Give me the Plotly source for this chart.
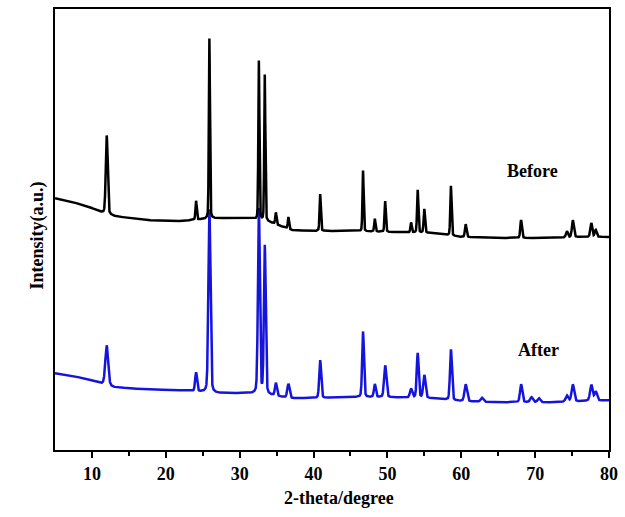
import numpy as np
import plotly.graph_objects as go

# ---------------- data ----------------
# background (baseline) control points: 2-theta, intensity (a.u.)
before_base_x = [5, 7, 10, 11.5, 13, 17, 22, 27, 31, 34, 37, 40, 45, 50, 56, 60, 65, 72, 76, 80]
before_base_y = [253, 250, 243, 238, 235, 231, 230, 233, 233, 229, 221, 220, 220, 219, 218, 214, 213, 213, 214, 214]
after_base_x = [5, 7, 10, 11.5, 13, 17, 22, 27, 31, 34, 37, 40, 45, 50, 56, 60, 65, 72, 76, 80]
after_base_y = [77, 75, 70, 66, 63, 61, 60, 57, 57, 55, 52, 52, 53, 53, 52, 49, 48, 48, 49, 50]

# reflections: position (2-theta), height above background, FWHM
before_pos = [12.0, 24.1, 25.9, 32.6, 33.4, 34.9, 36.6, 40.9, 46.7, 48.3, 49.7, 53.2, 54.1,
              55.0, 58.6, 60.6, 68.1, 74.3, 75.1, 77.6, 78.2]
before_height = [79, 19, 181, 160, 147, 12, 12, 37, 61, 13, 31, 10, 43,
                 24, 50, 13, 18, 6, 17, 14, 7]
before_fwhm = [0.3, 0.2, 0.17, 0.17, 0.17, 0.2, 0.2, 0.2, 0.18, 0.2, 0.2, 0.2, 0.2,
               0.22, 0.2, 0.25, 0.25, 0.3, 0.3, 0.3, 0.3]

after_pos = [12.0, 24.1, 25.9, 32.6, 33.4, 34.9, 36.6, 40.9, 46.7, 48.3, 49.7, 53.2, 54.1,
             55.0, 58.6, 60.6, 62.8, 68.1, 69.5, 70.5, 74.3, 75.1, 77.6, 78.2]
after_height = [40, 19, 184, 186, 149, 13, 14, 38, 66, 13, 32, 9, 45,
                23, 51, 17, 4, 18, 5, 4, 6, 17, 16, 9]
after_fwhm = [0.45, 0.3, 0.32, 0.3, 0.28, 0.3, 0.35, 0.3, 0.28, 0.3, 0.35, 0.35, 0.3,
              0.35, 0.3, 0.4, 0.4, 0.35, 0.4, 0.4, 0.4, 0.4, 0.4, 0.4]

x_ticks = [10, 20, 30, 40, 50, 60, 70, 80]

# ---------------- build profiles ----------------
tt = np.arange(5.0, 80.0001, 0.01)


def profile(base_x, base_y, pos, hgt, fwhm, eta=0.25):
    y = np.interp(tt, base_x, base_y).astype(float)
    for p, h, w in zip(pos, hgt, fwhm):
        d = (tt - p) / (w / 2.0)
        lor = 1.0 / (1.0 + d * d)
        gau = np.exp(-np.log(2) * d * d)
        y += h * (eta * lor + (1 - eta) * gau)
    return y


y_before = profile(before_base_x, before_base_y, before_pos, before_height, before_fwhm)
y_after = profile(after_base_x, after_base_y, after_pos, after_height, after_fwhm)

FONT = "Liberation Serif"

W, H = 625, 517
ML, MR, MT, MB = 55, 15, 7, 67
PW, PH = W - ML - MR, H - MT - MB

fig = go.Figure()
fig.add_trace(go.Scatter(x=tt, y=y_after, mode="lines", name="After",
                         line=dict(color="#1414dc", width=2.5), showlegend=False))
fig.add_trace(go.Scatter(x=tt, y=y_before, mode="lines", name="Before",
                         line=dict(color="#000000", width=2.5), showlegend=False))

fig.add_annotation(x=69.6, y=280, text="<b>Before</b>", showarrow=False,
                   font=dict(family=FONT, size=18, color="black"))
fig.add_annotation(x=70.4, y=100, text="<b>After</b>", showarrow=False,
                   font=dict(family=FONT, size=18, color="black"))
fig.add_annotation(xref="paper", yref="paper", x=(25 - ML) / PW, y=(450 - 235) / PH,
                   text="<b>Intensity(a.u.)</b>", textangle=-90, showarrow=False,
                   font=dict(family=FONT, size=18, color="black"))
fig.add_annotation(xref="paper", yref="paper", x=(340 - ML) / PW, y=-(498 - 450) / PH,
                   text="<b>2-theta/degree</b>", showarrow=False, yanchor="middle",
                   font=dict(family=FONT, size=18, color="black"))

fig.update_layout(
    width=W, height=H,
    margin=dict(l=ML, r=MR, t=MT, b=MB, pad=0),
    paper_bgcolor="white", plot_bgcolor="white",
    font=dict(family=FONT, size=18, color="black"),
    xaxis=dict(range=[5, 80], tickvals=x_ticks, ticktext=[f"<b>{v}</b>" for v in x_ticks],
               ticks="outside", ticklen=6, tickwidth=1.5, tickcolor="black",
               minor=dict(tickvals=[15, 25, 35, 45, 55, 65, 75], ticks="outside",
                          ticklen=4, tickwidth=1.5, tickcolor="black"),
               showline=True, linecolor="black", linewidth=2, mirror=True,
               showgrid=False, zeroline=False,
               tickfont=dict(family=FONT, size=18, color="black")),
    yaxis=dict(range=[0, 443], showticklabels=False, ticks="",
               showline=True, linecolor="black", linewidth=2, mirror=True,
               showgrid=False, zeroline=False),
)

fig.write_html(
    "out.html",
    config={"displayModeBar": False},
    post_script="document.body.style.margin='0';document.body.style.overflow='hidden';",
)
